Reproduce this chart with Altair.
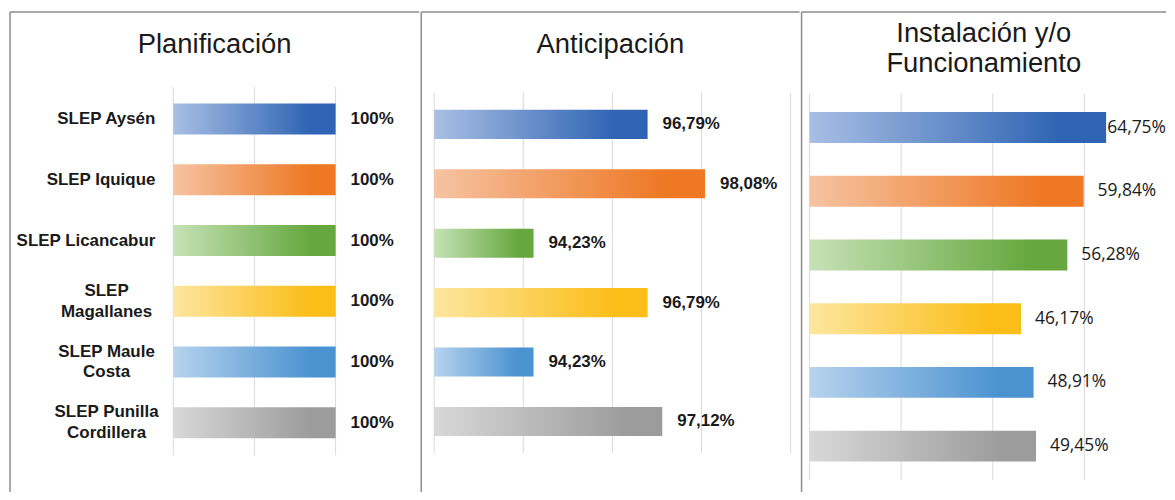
import altair as alt
import pandas as pd

# ---------------- data ----------------
categories = ["SLEP Aysén", "SLEP Iquique", "SLEP Licancabur", "SLEP\nMagallanes",
              "SLEP Maule\nCosta", "SLEP Punilla\nCordillera"]
planificacion = [100, 100, 100, 100, 100, 100]
anticipacion = [96.79, 98.08, 94.23, 96.79, 94.23, 97.12]
instalacion = [64.75, 59.84, 56.28, 46.17, 48.91, 49.45]
labels_plan = ["100%", "100%", "100%", "100%", "100%", "100%"]
labels_antic = ["96,79%", "98,08%", "94,23%", "96,79%", "94,23%", "97,12%"]
labels_inst = ["64,75%", "59,84%", "56,28%", "46,17%", "48,91%", "49,45%"]
titles = ["Planificación", "Anticipación", "Instalación y/o\nFuncionamiento"]
ticks_plan = [0, 50, 100]
ticks_antic = [92, 94, 96, 98, 100]
ticks_inst = [0, 20, 40, 60]

# ---------------- style ----------------
light = ["#a9bfe4", "#f6c3a2", "#c6e2b6", "#fde6a0", "#b7d3ee", "#d8d8d8"]
dark = ["#2e64b3", "#ee7824", "#66a83f", "#fbbd17", "#4a92d0", "#9c9c9c"]
BORDER = "#8c8c8c"
GRID = "#d9d9d9"
TXT = "#1a1a1a"
H = 482


def grad(a, b):
    return {"gradient": "linear", "x1": 0, "y1": 0, "x2": 1, "y2": 0,
            "stops": [{"offset": 0, "color": a}, {"offset": 0.85, "color": b},
                      {"offset": 1, "color": b}]}


color_enc = alt.ColorValue(
    condition=[{"test": f"datum.idx === {i}", "value": grad(light[i], dark[i])} for i in range(5)],
    value=grad(light[5], dark[5]),
)


def panel(values, labels, ticks, title, W, xdom, xrange, yrange, pad_inner,
          title_y, show_cats, label_font, label_weight, label_size, label_calc=None):
    df = pd.DataFrame({"cat": categories, "v": values, "lab": labels,
                       "idx": list(range(len(categories))),
                       "multi": ["\n" in c for c in categories]})
    xs = alt.Scale(domain=xdom, range=xrange, zero=False, nice=False)
    ys = alt.Scale(range=yrange, paddingInner=pad_inner, paddingOuter=pad_inner / 2)
    one = pd.DataFrame({"k": [0]})

    left = alt.Chart(one).mark_rule(color=BORDER, strokeWidth=1.5).encode(
        x=alt.value(0), y=alt.value(0), y2=alt.value(H))
    top = alt.Chart(one).mark_rule(color=BORDER, strokeWidth=1.5).encode(
        x=alt.value(0), x2=alt.value(W), y=alt.value(0))
    grid = alt.Chart(pd.DataFrame({"v": ticks})).mark_rule(color=GRID, strokeWidth=1).encode(
        x=alt.X("v:Q", scale=xs, axis=None),
        y=alt.value(yrange[0] - 2), y2=alt.value(yrange[1] + 2))
    bars = alt.Chart(df).mark_bar().encode(
        x=alt.X("v:Q", scale=xs, axis=None),
        x2=alt.datum(xdom[0]),
        y=alt.Y("cat:N", sort=categories, scale=ys, axis=None),
        color=color_enc,
    )
    if label_calc is None:
        vals = alt.Chart(df).mark_text(align="left", baseline="middle", dx=15,
                                       font=label_font, fontSize=label_size,
                                       fontWeight=label_weight, color=TXT).encode(
            x=alt.X("v:Q", scale=xs, axis=None),
            y=alt.Y("cat:N", sort=categories, scale=ys, axis=None),
            text="lab:N")
    else:
        vals = alt.Chart(df).transform_calculate(lx=label_calc).mark_text(
            align="left", baseline="middle", font=label_font, fontSize=label_size,
            fontWeight=label_weight, color=TXT).encode(
            x=alt.X("lx:Q", scale=xs, axis=None),
            y=alt.Y("cat:N", sort=categories, scale=ys, axis=None),
            text="lab:N")
    ttl = alt.Chart(one).mark_text(align="center", baseline="middle", lineBreak="\n",
                                   lineHeight=30, font="Liberation Sans", fontSize=27.5,
                                   color=TXT).encode(
        x=alt.value(W / 2), y=alt.value(title_y), text=alt.value(title))
    layers = [left, top, grid, bars, vals, ttl]
    if show_cats:
        single = alt.Chart(df).transform_filter("!datum.multi").mark_text(
            align="right", baseline="middle", font="Liberation Sans", fontSize=17,
            fontWeight="bold", color=TXT).encode(
            x=alt.value(146),
            y=alt.Y("cat:N", sort=categories, scale=ys, axis=None),
            text="cat:N")
        multi = alt.Chart(df).transform_filter("datum.multi").mark_text(
            align="center", baseline="middle", lineBreak="\n", lineHeight=21, dy=-10.5,
            font="Liberation Sans", fontSize=17, fontWeight="bold", color=TXT).encode(
            x=alt.value(97),
            y=alt.Y("cat:N", sort=categories, scale=ys, axis=None),
            text="cat:N")
        layers += [single, multi]
    return alt.layer(*layers).properties(width=W, height=H)


p1 = panel(planificacion, labels_plan, ticks_plan, titles[0], 411, [0, 100], [164, 327],
           [77, 443], 0.49, 33, True, "Liberation Sans", "bold", 17)
p2 = panel(anticipacion, labels_antic, ticks_antic, titles[1], 380, [92, 100], [13, 371],
           [83, 441], 0.51, 33, False, "Liberation Sans", "bold", 17)
p3 = panel(instalacion, labels_inst, ticks_inst, titles[2], 366, [0, 80], [8, 376],
           [84, 468], 0.516, 22, False, "Open Sans", "normal", 17.5,
           label_calc="min(datum.v + 3.04, 65.0)")

chart = alt.hconcat(p1, p2, p3, spacing=0).properties(
    padding={"left": 1, "top": 2, "right": 0, "bottom": 0},
    background="white",
).configure_view(stroke=None)

chart.save("out.html", embed_options={"renderer": "svg", "actions": False})
